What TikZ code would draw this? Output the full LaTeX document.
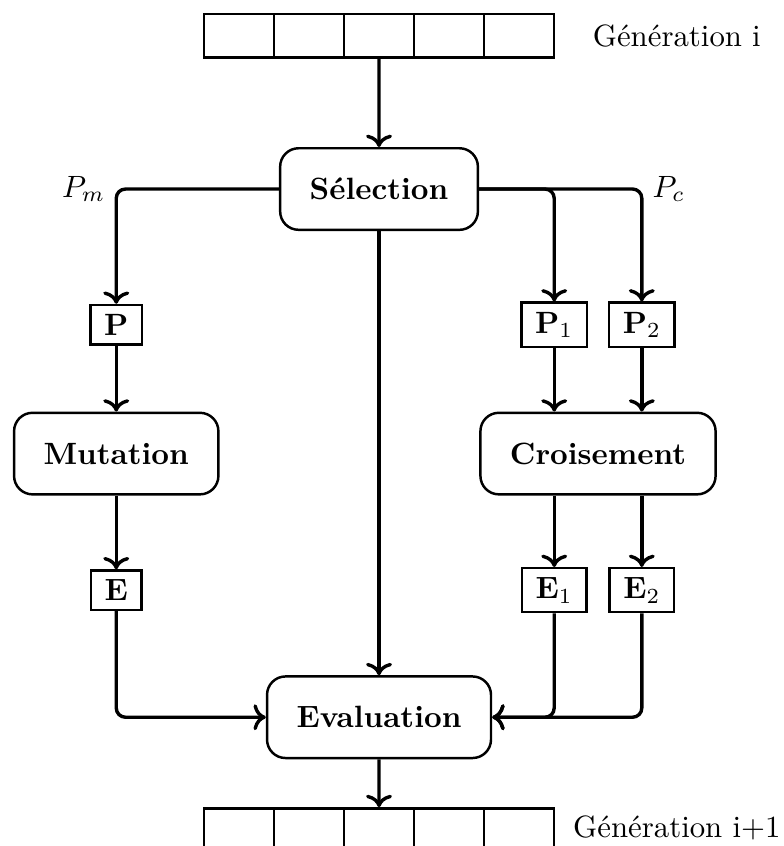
\documentclass[tikz,border=0pt]{standalone}
\usepackage{fontspec}
\usetikzlibrary{calc, arrows.meta}

\begin{document}
\begin{tikzpicture}[
  box/.style={draw, thick, rounded corners=6pt, inner xsep=9.6pt, minimum height=26.5pt, font=\bfseries},
  indiv/.style={draw, thick, inner xsep=4.5pt, inner ysep=3pt, font=\bfseries},
  cell/.style={draw, thick, minimum width=0.8cm, minimum height=0.5cm, inner sep=0pt},
  flow/.style={->, line width=1.1pt, rounded corners=3pt}]
  \useasboundingbox (-4.327,-7.5) rectangle (4.612,2.158);

  % populations
  \foreach \i in {1,...,5} {
    \node[cell] (top\i) at ({-2.4+0.8*\i},1.75) {};
    \node[cell] (bot\i) at ({-2.4+0.8*\i},-7.32) {};
  }
  \node (gen) at (3.4,1.75) {Génération i};
  \node (gennext) at (3.4,-7.29) {Génération i+1};

  % operateurs
  \node[box] (sel) at (0,0) {Sélection};
  \node[box] (mut) at (-3,-3.02) {Mutation};
  \node[box] (cro) at (2.5,-3.02) {Croisement};
  \node[box] (eval) at (0,-6.03) {Evaluation};

  % parents et enfants
  \node[indiv] (p)  at (-3,-1.55) {P};
  \node[indiv] (p1) at (2,-1.55) {P$_1$};
  \node[indiv] (p2) at (3,-1.55) {P$_2$};
  \node[indiv] (e)  at (-3,-4.58) {E};
  \node[indiv] (e1) at (2,-4.58) {E$_1$};
  \node[indiv] (e2) at (3,-4.58) {E$_2$};

  \node[left]  (pm) at (-3,0) {$P_m$};
  \node[right] (pc) at (3,0) {$P_c$};

  \draw[flow] (top3) -- (sel);
  \draw[flow] (sel) -| (p);
  \draw[flow] (sel) -| (p1);
  \draw[flow] (sel) -| (p2);
  \draw[flow] (sel) -- (eval);

  \draw[flow] (p) -- (mut);
  \draw[flow] (p1) -- (p1 |- cro.north);
  \draw[flow] (p2) -- (p2 |- cro.north);
  \draw[flow] (mut) -- (e);
  \draw[flow] (cro.south -| e1) -- (e1);
  \draw[flow] (cro.south -| e2) -- (e2);

  \draw[flow] (e) |- (eval);
  \draw[flow] (e1) |- (eval);
  \draw[flow] (e2) |- (eval);
  \draw[flow] (eval) -- (bot3);
\end{tikzpicture}
\end{document}
